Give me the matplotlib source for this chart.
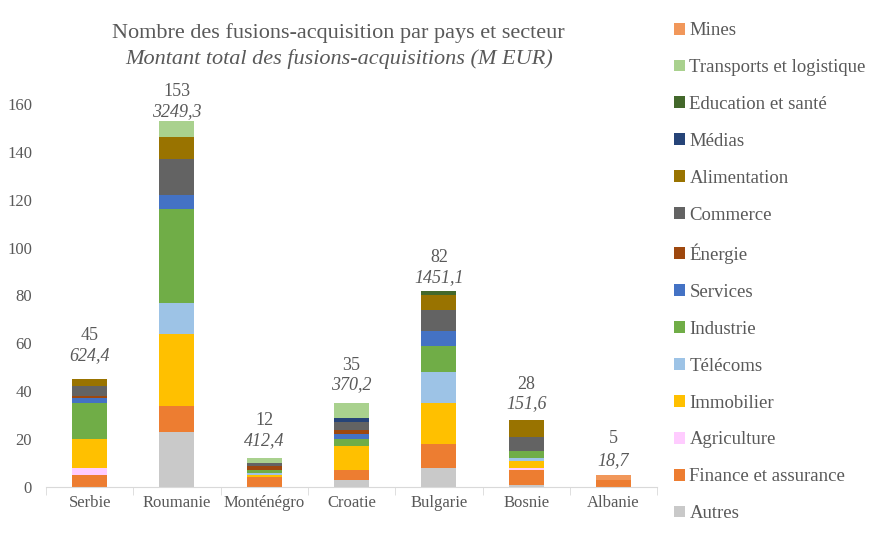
import numpy as np
import matplotlib
matplotlib.use("Agg")
import matplotlib.pyplot as plt

plt.rcParams['font.family'] = ['Liberation Serif', 'DejaVu Serif']

pays = ["Serbie", "Roumanie", "Monténégro", "Croatie", "Bulgarie", "Bosnie", "Albanie"]
totaux = [45, 153, 12, 35, 82, 28, 5]
montants = ["624,4", "3249,3", "412,4", "370,2", "1451,1", "151,6", "18,7"]

# secteurs, du bas vers le haut de la pile
secteurs = ["Autres", "Finance et assurance", "Agriculture", "Immobilier", "Télécoms",
            "Industrie", "Services", "Énergie", "Commerce", "Alimentation", "Médias",
            "Education et santé", "Transports et logistique", "Mines"]
valeurs = {
    "Autres":                   [0, 23, 0, 3, 8, 1, 0],
    "Finance et assurance":     [5, 11, 4, 4, 10, 6, 3],
    "Agriculture":              [3, 0, 0, 0, 0, 1, 0],
    "Immobilier":               [12, 30, 1, 10, 17, 3, 0],
    "Télécoms":                 [0, 13, 1, 0, 13, 1, 0],
    "Industrie":                [15, 39, 1, 3, 11, 3, 0],
    "Services":                 [2, 6, 0, 2, 6, 0, 0],
    "Énergie":                  [1, 0, 2, 2, 0, 0, 0],
    "Commerce":                 [4, 15, 1, 3, 9, 6, 0],
    "Alimentation":             [3, 9, 0, 0, 6, 7, 0],
    "Médias":                   [0, 0, 0, 2, 0, 0, 0],
    "Education et santé":       [0, 0, 0, 0, 2, 0, 0],
    "Transports et logistique": [0, 7, 2, 6, 0, 0, 0],
    "Mines":                    [0, 0, 0, 0, 0, 0, 2],
}
couleurs = {
    "Autres": "#c9c9c9",
    "Finance et assurance": "#ed7d31",
    "Agriculture": "#ffccff",
    "Immobilier": "#ffc000",
    "Télécoms": "#9dc3e6",
    "Industrie": "#70ad47",
    "Services": "#4472c4",
    "Énergie": "#9e480e",
    "Commerce": "#636363",
    "Alimentation": "#997300",
    "Médias": "#264478",
    "Education et santé": "#43682b",
    "Transports et logistique": "#a9d18e",
    "Mines": "#f1975a",
}

# decalage vertical des etiquettes (pixels) : montant, nombre
label_offsets = [(24, 44), (9, 29), (18, 38), (19, 38), (13, 33), (16, 36), (15, 37)]

gris = "#595959"

fig = plt.figure(figsize=(8.91, 5.4), dpi=100)
ax = fig.add_axes([0.0516, 0.098, 0.686, 0.754])

x = np.arange(len(pays))
bas = np.zeros(len(pays))
handles = []
for s in secteurs:
    v = np.array(valeurs[s], dtype=float)
    b = ax.bar(x, v, 0.4, bottom=bas, color=couleurs[s], label=s, linewidth=0)
    handles.append(b)
    bas += v

for i in range(len(pays)):
    o1, o2 = label_offsets[i]
    ax.annotate(montants[i], (x[i], totaux[i]), xytext=(0, o1), textcoords='offset pixels',
                ha='center', va='center', fontsize=13, style='italic', color=gris)
    ax.annotate(str(totaux[i]), (x[i], totaux[i]), xytext=(0, o2), textcoords='offset pixels',
                ha='center', va='center', fontsize=13, color=gris)

ax.set_xlim(-0.5, len(pays) - 0.5)
ax.set_ylim(0, 170)
ax.set_yticks(range(0, 161, 20))
ax.set_xticks(x)
ax.set_xticklabels(pays)
ax.set_xticks(np.arange(-0.5, len(pays), 1), minor=True)
ax.tick_params(axis='x', which='major', length=0, labelsize=12, colors=gris, pad=6)
ax.tick_params(axis='x', which='minor', length=6, color="#d9d9d9")
ax.tick_params(axis='y', length=0, labelsize=12, colors=gris, pad=10)
for sp in ['top', 'right', 'left']:
    ax.spines[sp].set_visible(False)
ax.spines['bottom'].set_color("#d9d9d9")

fig.text(0.380, 0.938, "Nombre des fusions-acquisition par pays et secteur",
         ha='center', va='center', fontsize=16, color=gris)
fig.text(0.381, 0.891, "Montant total des fusions-acquisitions (M EUR)",
         ha='center', va='center', fontsize=16, style='italic', color=gris)

leg = fig.legend(handles[::-1], secteurs[::-1], loc='upper left',
                 bbox_to_anchor=(0.737, 0.99), frameon=False, fontsize=13.5,
                 handlelength=0.6, handleheight=0.6, handletextpad=0.25,
                 labelspacing=1.06, labelcolor=gris)

fig.savefig("out.png", dpi=100)
